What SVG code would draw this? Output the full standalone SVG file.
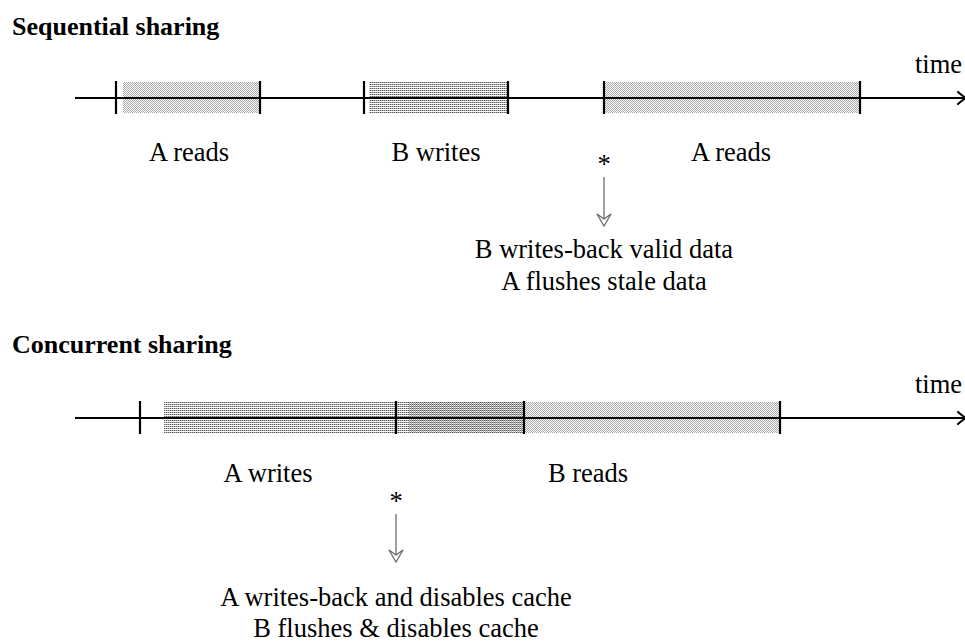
<svg xmlns="http://www.w3.org/2000/svg" width="965" height="643" viewBox="0 0 965 643">
  <defs>
    <!-- fine checker halftone used for read intervals -->
    <pattern id="light" width="2" height="2" patternUnits="userSpaceOnUse">
      <rect x="0" y="0" width="1" height="1" fill="#a8a8a8"/>
      <rect x="1" y="1" width="1" height="1" fill="#a8a8a8"/>
    </pattern>
    <!-- dotted grid used for write intervals -->
    <pattern id="dense" width="2" height="2" patternUnits="userSpaceOnUse">
      <rect x="0" y="0" width="1" height="1" fill="#5a5a5a"/>
      <rect x="1" y="0" width="1" height="1" fill="#b4b4b4"/>
    </pattern>
  </defs>
  <style>
    .title { font-family: "Liberation Serif", "Times New Roman", serif; font-size: 26px; font-weight: bold; fill: #000; }
    .lbl { font-family: "Liberation Serif", "Times New Roman", serif; font-size: 26.5px; fill: #000; }
    .mid { text-anchor: middle; }
    .axis { stroke: #000; stroke-width: 2; fill: none; }
    .tick { stroke: #000; stroke-width: 2.2; }
    .head { stroke: #000; stroke-width: 2; fill: none; stroke-linecap: round; stroke-linejoin: round; }
    .note { stroke: #777; stroke-width: 1.4; fill: none; }
    .notehead { stroke: #666; stroke-width: 1.2; fill: #fff; stroke-linejoin: miter; }
  </style>

  <!-- Sequential sharing -->
  <g id="sequential">
    <text class="title" x="12" y="35">Sequential sharing</text>
    <g id="seq-intervals">
      <rect x="123" y="82" width="137" height="31" fill="url(#light)"/>
      <rect x="369" y="82" width="138" height="31" fill="url(#dense)"/>
      <rect x="605" y="82" width="254" height="31" fill="url(#light)"/>
    </g>
    <g id="seq-axis">
      <line class="axis" x1="75" y1="98" x2="966" y2="98"/>
      <path class="head" d="M958,92 Q963,96.5 966,98 Q963,99.5 958,104"/>
      <line class="tick" x1="116" y1="81" x2="116" y2="114"/>
      <line class="tick" x1="260" y1="81" x2="260" y2="114"/>
      <line class="tick" x1="364" y1="81" x2="364" y2="114"/>
      <line class="tick" x1="508" y1="81" x2="508" y2="114"/>
      <line class="tick" x1="604" y1="81" x2="604" y2="114"/>
      <line class="tick" x1="860" y1="81" x2="860" y2="114"/>
      <text class="lbl" x="915" y="73">time</text>
    </g>
    <text class="lbl mid" x="189" y="161">A reads</text>
    <text class="lbl mid" x="436" y="161">B writes</text>
    <text class="lbl mid" x="731" y="161">A reads</text>
    <g id="seq-event">
      <text class="lbl mid" x="604" y="173">*</text>
      <line class="note" x1="604" y1="177" x2="604" y2="220"/>
      <path class="notehead" d="M597,214 L604,226 L611,214 L604,219 Z"/>
      <text class="lbl mid" x="604" y="258">B writes-back valid data</text>
      <text class="lbl mid" x="604" y="290">A flushes stale data</text>
    </g>
  </g>

  <!-- Concurrent sharing -->
  <g id="concurrent">
    <text class="title" x="12" y="353">Concurrent sharing</text>
    <g id="con-intervals">
      <rect x="408" y="402" width="372" height="31" fill="url(#light)"/>
      <rect x="164" y="402" width="360" height="31" fill="url(#dense)"/>
    </g>
    <g id="con-axis">
      <line class="axis" x1="75" y1="418" x2="966" y2="418"/>
      <path class="head" d="M958,412 Q963,416.5 966,418 Q963,419.5 958,424"/>
      <line class="tick" x1="140" y1="401" x2="140" y2="434"/>
      <line class="tick" x1="396" y1="401" x2="396" y2="434"/>
      <line class="tick" x1="524" y1="401" x2="524" y2="434"/>
      <line class="tick" x1="780" y1="401" x2="780" y2="434"/>
      <text class="lbl" x="915" y="393">time</text>
    </g>
    <text class="lbl mid" x="268" y="482">A writes</text>
    <text class="lbl mid" x="588" y="482">B reads</text>
    <g id="con-event">
      <text class="lbl mid" x="396" y="510">*</text>
      <line class="note" x1="396" y1="514" x2="396" y2="556"/>
      <path class="notehead" d="M389,550 L396,562 L403,550 L396,555 Z"/>
      <text class="lbl mid" x="396" y="606">A writes-back and disables cache</text>
      <text class="lbl mid" x="396" y="637">B flushes &amp; disables cache</text>
    </g>
  </g>
</svg>
